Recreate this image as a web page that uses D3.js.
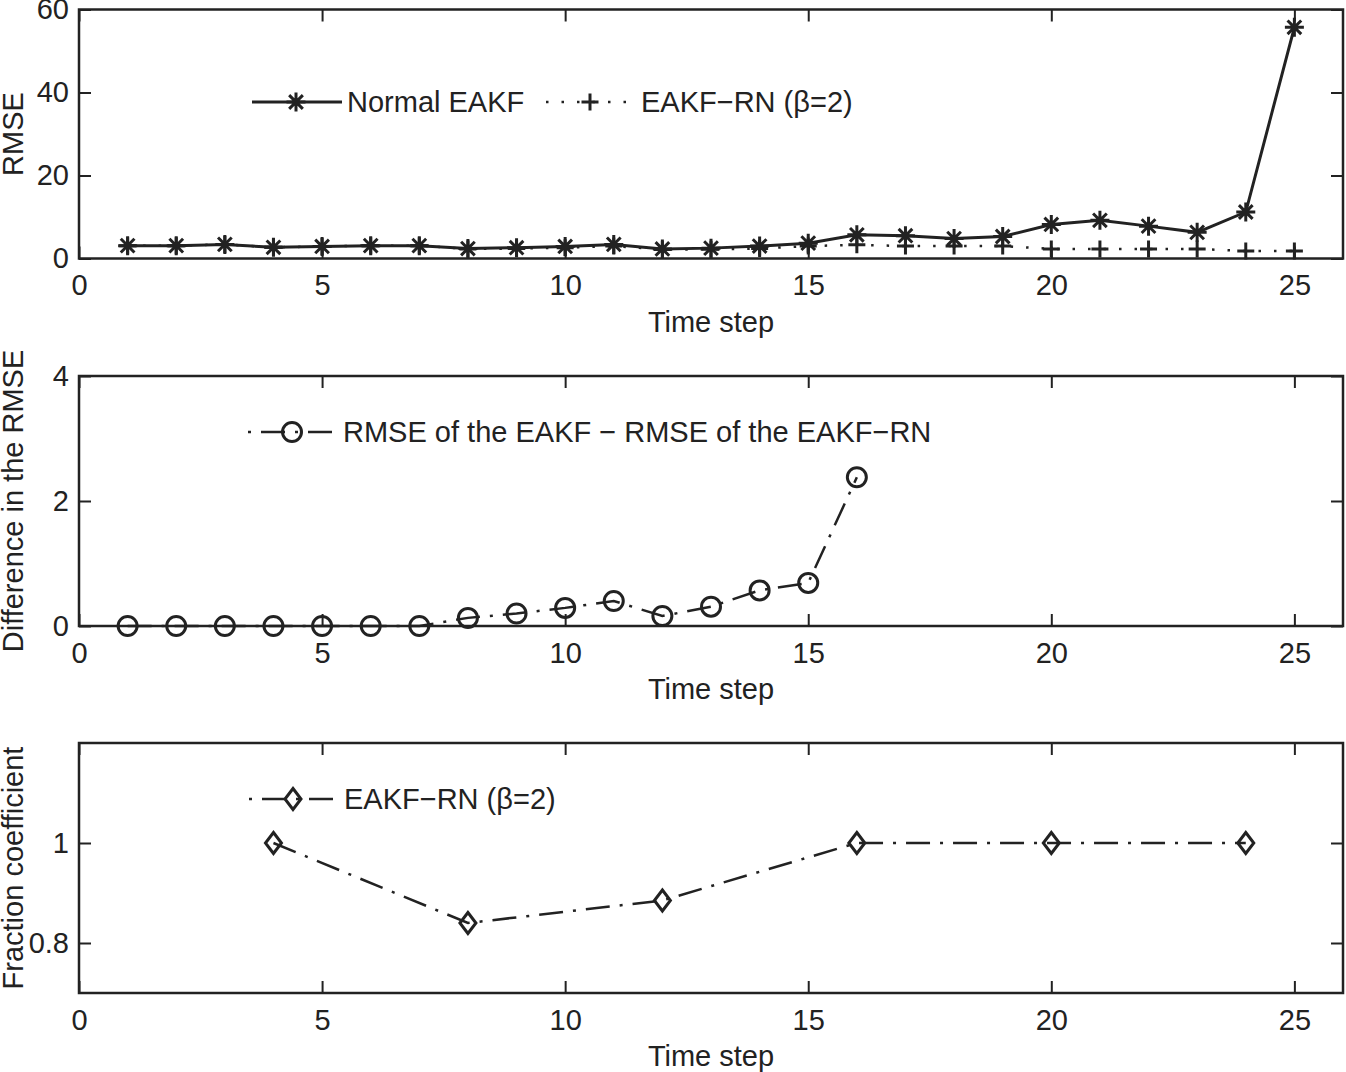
<!DOCTYPE html>
<html>
<head>
<meta charset="utf-8">
<script src="https://cdn.jsdelivr.net/npm/d3@7"></script>
<style>
  body { margin: 0; background: #fff; }
  text { font-family: "Liberation Sans", Arial, sans-serif; fill: #222; }
</style>
</head>
<body>
<div id="chart"></div>
<script>
// data
const timeSteps = [1, 2, 3, 4, 5, 6, 7, 8, 9, 10, 11, 12, 13, 14, 15, 16, 17, 18, 19, 20, 21, 22, 23, 24, 25];
const normalEakf = [3.1, 3.1, 3.4, 2.7, 2.9, 3.1, 3.1, 2.4, 2.6, 2.9, 3.4, 2.3, 2.5, 3.0, 3.7, 5.7, 5.5, 4.8, 5.3, 8.2, 9.2, 7.8, 6.3, 11.2, 55.7];
const eakfRn = [3.1, 3.1, 3.4, 2.7, 2.9, 3.1, 3.1, 2.3, 2.4, 2.6, 3.0, 2.15, 2.2, 2.4, 3.0, 3.3, 3.0, 3.0, 3.0, 2.3, 2.3, 2.3, 2.3, 1.8, 1.8];

const diffSteps = [1, 2, 3, 4, 5, 6, 7, 8, 9, 10, 11, 12, 13, 14, 15, 16];
const rmseDiff = [0, 0, 0, 0, 0, 0, 0, 0.13, 0.2, 0.29, 0.4, 0.16, 0.31, 0.57, 0.69, 2.38];

const fracSteps = [4, 8, 12, 16, 20, 24];
const fracCoef = [1, 0.84, 0.885, 1, 1, 1];

const xTicks = [0, 5, 10, 15, 20, 25];
const yTicks1 = [0, 20, 40, 60];
const yTicks2 = [0, 2, 4];
const yTicks3 = [0.8, 1];

// mise en page
const width = 1346, height = 1072,
    left = 79, right = 1343,
    tickLen = 12,
    ink = "#222",
    dashDot = "24,10,3,10",
    dotted = "2.5,13";

const svg = d3.select("#chart").append("svg")
    .attr("width", width)
    .attr("height", height);

const x = d3.scaleLinear().domain([0, 26]).range([left, right]);

// markers
const half = 9.5, d = half * 0.72;
const marker = {
    star: `M${-half},0H${half}M0,${-half}V${half}M${-d},${-d}L${d},${d}M${-d},${d}L${d},${-d}`,
    plus: "M-8.5,0H8.5M0,-8.5V8.5",
    circle: "M9.5,0A9.5,9.5 0 1,1 -9.5,0A9.5,9.5 0 1,1 9.5,0Z",
    diamond: "M0,-10.5L8,0L0,10.5L-8,0Z"
};

function drawPanel(top, bottom, yDomain, yTicks, yLabel) {
    const y = d3.scaleLinear().domain(yDomain).range([bottom, top]);
    const g = svg.append("g");

    // axes on four sides, ticks pointing inward
    g.append("g").attr("transform", `translate(0,${bottom})`)
        .call(d3.axisBottom(x).tickValues(xTicks).tickSizeInner(-tickLen).tickSizeOuter(0).tickPadding(16))
        .call(a => a.select(".domain").remove());
    g.append("g").attr("transform", `translate(0,${top})`)
        .call(d3.axisTop(x).tickValues(xTicks).tickSizeInner(-tickLen).tickSizeOuter(0).tickFormat(""))
        .call(a => a.select(".domain").remove());
    g.append("g").attr("transform", `translate(${left},0)`)
        .call(d3.axisLeft(y).tickValues(yTicks).tickSizeInner(-tickLen).tickSizeOuter(0).tickPadding(10).tickFormat(d3.format("")))
        .call(a => a.select(".domain").remove());
    g.append("g").attr("transform", `translate(${right},0)`)
        .call(d3.axisRight(y).tickValues(yTicks).tickSizeInner(-tickLen).tickSizeOuter(0).tickFormat(""))
        .call(a => a.select(".domain").remove());

    g.selectAll(".tick line").attr("stroke", ink).attr("stroke-width", 2);
    g.selectAll(".tick text").style("font-size", "29px").attr("fill", ink);

    g.append("rect")
        .attr("x", left).attr("y", top)
        .attr("width", right - left).attr("height", bottom - top)
        .attr("fill", "none").attr("stroke", ink).attr("stroke-width", 2.5);

    g.append("text")
        .attr("x", (left + right) / 2)
        .attr("y", bottom + 73)
        .attr("text-anchor", "middle")
        .style("font-size", "29px")
        .text("Time step");

    g.append("text")
        .attr("transform", `translate(23,${(top + bottom) / 2}) rotate(-90)`)
        .attr("text-anchor", "middle")
        .style("font-size", "29px")
        .text(yLabel);

    return { g, y };
}

function drawSeries(g, y, xs, ys, dash, shape, lw) {
    const pts = xs.map((v, i) => [v, ys[i]]);
    g.append("path")
        .datum(pts)
        .attr("d", d3.line().x(p => x(p[0])).y(p => y(p[1])))
        .attr("fill", "none")
        .attr("stroke", ink)
        .attr("stroke-width", lw)
        .attr("stroke-dasharray", dash);
    g.selectAll(null)
        .data(pts)
        .enter().append("path")
        .attr("transform", p => `translate(${x(p[0])},${y(p[1])})`)
        .attr("d", marker[shape])
        .attr("fill", "none")
        .attr("stroke", ink)
        .attr("stroke-width", 3);
}

function legendItem(g, x0, yPos, dash, shape, label, lw) {
    g.append("line")
        .attr("x1", x0).attr("x2", x0 + 90)
        .attr("y1", yPos).attr("y2", yPos)
        .attr("stroke", ink).attr("stroke-width", lw)
        .attr("stroke-dasharray", dash)
        .attr("stroke-dashoffset", dash === dashDot ? 34 : 0);
    g.append("path")
        .attr("transform", `translate(${x0 + 44},${yPos})`)
        .attr("d", marker[shape])
        .attr("fill", "none").attr("stroke", ink).attr("stroke-width", 3);
    g.append("text")
        .attr("x", x0 + 95)
        .attr("y", yPos + 10)
        .style("font-size", "29px")
        .text(label);
}

// panneau 1 : RMSE
const p1 = drawPanel(9.5, 258.5, [0, 60], yTicks1, "RMSE");
drawSeries(p1.g, p1.y, timeSteps, eakfRn, dotted, "plus", 2.5);
drawSeries(p1.g, p1.y, timeSteps, normalEakf, null, "star", 3);
legendItem(p1.g, 252, 102, null, "star", "Normal EAKF", 3);
legendItem(p1.g, 546, 102, dotted, "plus", "EAKF\u2212RN (\u03b2=2)", 2.5);

// panneau 2 : différence
const p2 = drawPanel(376, 626, [0, 4], yTicks2, "Difference in the RMSE");
drawSeries(p2.g, p2.y, diffSteps, rmseDiff, dashDot, "circle", 2.5);
legendItem(p2.g, 248, 432, dashDot, "circle", "RMSE of the EAKF \u2212 RMSE of the EAKF\u2212RN", 2.5);

// panneau 3 : coefficient
const p3 = drawPanel(743, 993, [0.7, 1.2], yTicks3, "Fraction coefficient");
drawSeries(p3.g, p3.y, fracSteps, fracCoef, dashDot, "diamond", 2.5);
legendItem(p3.g, 249, 799, dashDot, "diamond", "EAKF\u2212RN (\u03b2=2)", 2.5);
</script>
</body>
</html>
